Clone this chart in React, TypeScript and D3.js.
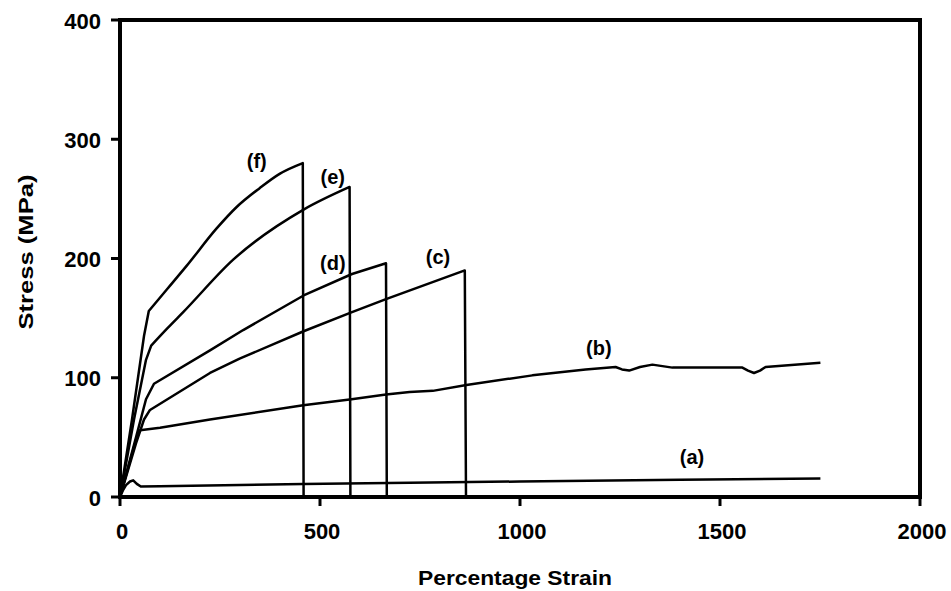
import React from "react";
import * as d3 from "d3";

const xTicks = [0, 500, 1000, 1500, 2000];
const yTicks = [0, 100, 200, 300, 400];

const curveA: [number, number][] = [[0,0],[8,6],[15,10],[25,13],[33,14],[42,11],[52,8.8],[100,9],[458,11],[724,12],[1000,13],[1400,14.5],[1751,15.5]];
const curveB: [number, number][] = [[0,0],[40,48],[50,56],[100,58],[225,65],[458,77],[579,82],[665,86],[724,88],[782,89],[866,94],[1031,102],[1164,107],[1239,109],[1255,107],[1273,106],[1300,109],[1331,111],[1381,108.5],[1556,108.5],[1570,106],[1585,104],[1600,106],[1614,109],[1751,112.6]];
const curveC: [number, number][] = [[0,0],[40,45],[60,65],[75,73],[225,104],[299,116],[459,139],[580,155],[665,166],[862,190],[865,0]];
const curveD: [number, number][] = [[0,0],[40,50],[65,82],[85,95],[225,123],[308,140],[459,169],[580,187],[665,196],[667,0]];
const curveE: [number, number][] = [[0,0],[35,65],[65,115],[78,127],[120,142],[158,155],[283,199],[459,241],[574,260],[576,0]];
const curveF: [number, number][] = [[0,0],[30,65],[60,135],[72,156],[117,174],[167,194],[241,225],[291,243],[349,259],[399,271],[457,280],[459,0]];

const seriesNames = ["(a)", "(b)", "(c)", "(d)", "(e)", "(f)"];
const seriesData = [curveA, curveB, curveC, curveD, curveE, curveF];
// index of the yield knee for curves whose post-yield part is a smooth curve (-1: none)
const kneeIndex = [-1, -1, -1, -1, 3, 3];
// label anchor points in data units (strain, stress)
const labelAnchors: [number, number][] = [[1430, 33.5],[1197, 125],[795, 201],[532, 196],[532, 268],[342, 282]];

export default function App() {
  const W = 951, H = 591;
  const x = d3.scaleLinear().domain([0, 2000]).range([120, 920]);
  const y = d3.scaleLinear().domain([0, 400]).range([497, 20]);
  const smooth = d3.line<[number, number]>().x(d => x(d[0])).y(d => y(d[1])).curve(d3.curveMonotoneX);
  const straight = d3.line<[number, number]>().x(d => x(d[0])).y(d => y(d[1]));
  const font = "'Liberation Sans', Arial, Helvetica, sans-serif";

  const buildPath = (d: [number, number][], k: number) => {
    if (k < 0) return straight(d) || "";
    const rise = straight(d.slice(0, k + 1)) || "";
    const mid = (smooth(d.slice(k, d.length - 1)) || "").replace(/^M[^A-Za-z]*/, "");
    const last = d[d.length - 1];
    return `${rise}${mid}L${x(last[0])},${y(last[1])}`;
  };

  return (
    <svg width={W} height={H} style={{ position: "absolute", left: 0, top: 0, background: "#fff" }}>
      <rect x={0} y={0} width={W} height={H} fill="#fff" />
      {seriesData.map((d, i) => (
        <path key={i} d={buildPath(d, kneeIndex[i])} fill="none" stroke="#000" strokeWidth={2.5} strokeLinejoin="round" />
      ))}
      {/* frame */}
      <rect x={x(0)} y={y(400)} width={x(2000) - x(0)} height={y(0) - y(400)} fill="none" stroke="#000" strokeWidth={4} />
      {/* y ticks */}
      {yTicks.map(t => (
        <g key={"y" + t}>
          <line x1={x(0) - 9} x2={x(0)} y1={y(t)} y2={y(t)} stroke="#000" strokeWidth={3} />
          <text x={101} y={y(t) + 1} textAnchor="end" dominantBaseline="central" fontFamily={font} fontWeight="bold" fontSize={22}>{t}</text>
        </g>
      ))}
      {/* x ticks */}
      {xTicks.map(t => (
        <g key={"x" + t}>
          <line x1={x(t)} x2={x(t)} y1={y(0)} y2={y(0) + 9} stroke="#000" strokeWidth={3} />
          <text x={x(t) + 2} y={531} textAnchor="middle" dominantBaseline="central" fontFamily={font} fontWeight="bold" fontSize={22}>{t}</text>
        </g>
      ))}
      {seriesNames.map((n, i) => (
        <text key={n} x={x(labelAnchors[i][0])} y={y(labelAnchors[i][1])} textAnchor="middle" dominantBaseline="central" fontFamily={font} fontWeight="bold" fontSize={20}>{n}</text>
      ))}
      <text x={515} y={585} textAnchor="middle" fontFamily={font} fontWeight="bold" fontSize={21} textLength={194} lengthAdjust="spacingAndGlyphs">Percentage Strain</text>
      <text transform="translate(33,252) rotate(-90)" textAnchor="middle" fontFamily={font} fontWeight="bold" fontSize={20} textLength={155} lengthAdjust="spacingAndGlyphs">Stress (MPa)</text>
    </svg>
  );
}
